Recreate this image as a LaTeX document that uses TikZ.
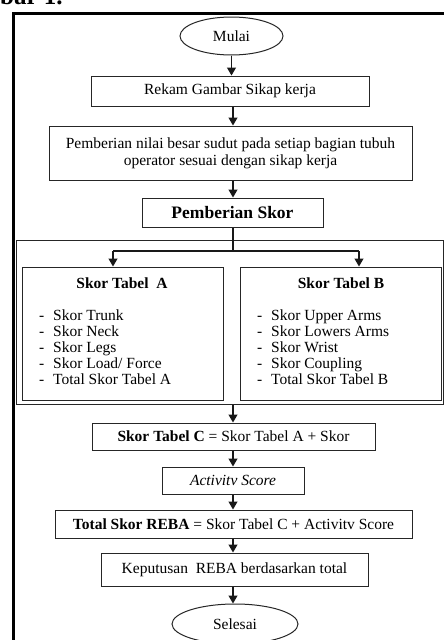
\documentclass[tikz,border=0pt]{standalone}
\usepackage{fontspec}
\setmainfont{Liberation Serif}
\usetikzlibrary{arrows.meta,shapes.geometric}
\tikzset{
  basefont/.style={font=\fontsize{15.5}{17}\selectfont},
  flowbox/.style={draw=black!85, line width=1pt, inner sep=0pt, align=center, basefont, fill=white},
  termnode/.style={flowbox, ellipse},
  arr/.style={draw=black!90, line width=1.2pt, -{Triangle[length=8pt,width=9pt]}},
  conn/.style={draw=black!90, line width=1.2pt},
  listtext/.style={inner sep=0pt, align=left, anchor=west, font=\fontsize{15.5}{16}\selectfont},
  frameline/.style={draw=black, line width=3.5pt},
}
\newcommand{\itm}[1]{\makebox[14pt][l]{-}#1}
\begin{document}
\begin{tikzpicture}[x=1pt,y=-1pt]
\useasboundingbox (0,0) rectangle (444,640);

% partial caption at the top
\node[anchor=base west, inner sep=0pt, font=\bfseries\fontsize{25}{25}\selectfont] (cap) at (0,4) {bar 1.};

% thick outer frame (cropped)
\draw[frameline] (13.5,650) -- (13.5,13.5) -- (460,13.5);

% group box around tables A and B
\node[draw=black!85, line width=1pt, inner sep=0pt, minimum width=427pt, minimum height=164pt] (grp) at (229.5,322) {};

\node[termnode, minimum width=103pt, minimum height=38pt] (mulai) at (231.5,36) {Mulai};
\node[flowbox, minimum width=278pt, minimum height=30pt] (rekam) at (230,91) {Rekam Gambar Sikap kerja};
\node[flowbox, minimum width=363pt, minimum height=54pt] (nilai) at (230.5,153) {Pemberian nilai besar sudut pada setiap bagian tubuh\\operator sesuai dengan sikap kerja};
\node[flowbox, minimum width=181pt, minimum height=29pt, font=\bfseries\fontsize{17.5}{20}\selectfont] (skor) at (232.5,212.5) {Pemberian Skor};

\node[flowbox, minimum width=201pt, minimum height=133pt] (tabA) at (122.5,333.5) {};
\node[flowbox, minimum width=201pt, minimum height=133pt] (tabB) at (340.5,333.5) {};
\node[inner sep=0pt, font=\bfseries\fontsize{15.5}{17}\selectfont] (titA) at (122,283) {Skor Tabel\ \ A};
\node[inner sep=0pt, font=\bfseries\fontsize{15.5}{17}\selectfont] (titB) at (341,283) {Skor Tabel B};
\node[listtext] (listA) at (39,347) {\itm{Skor Trunk}\\\itm{Skor Neck}\\\itm{Skor Legs}\\\itm{Skor Load/ Force}\\\itm{Total Skor Tabel A}};
\node[listtext] (listB) at (257,347) {\itm{Skor Upper Arms}\\\itm{Skor Lowers Arms}\\\itm{Skor Wrist}\\\itm{Skor Coupling}\\\itm{Total Skor Tabel B}};

\node[flowbox, minimum width=283pt, minimum height=27pt] (tabC) at (233.5,436.5) {\textbf{Skor Tabel C} = Skor Tabel A + Skor};
\node[flowbox, minimum width=142pt, minimum height=27pt] (act) at (233,480.5) {\itshape Activitv Score};
\node[flowbox, minimum width=357pt, minimum height=28pt] (reba) at (233.5,524) {\textbf{Total Skor REBA} = Skor Tabel C + Activitv Score};
\node[flowbox, minimum width=267pt, minimum height=33pt] (kep) at (234.5,569.5) {Keputusan\ \ REBA berdasarkan total};
\node[termnode, minimum width=126pt, minimum height=40pt] (selesai) at (235,624) {Selesai};

% connectors
\coordinate (axis) at (233,0);
\coordinate (split) at (233,251);
\coordinate (splitL) at (113,251);
\coordinate (splitR) at (359,251);

\draw[arr] (mulai.south) -- (mulai.south |- rekam.north);
\draw[arr] (rekam.south -| axis) -- (axis |- nilai.north);
\draw[arr] (nilai.south -| axis) -- (axis |- skor.north);
\draw[conn] (skor.south -| axis) -- (split);
\draw[conn] (splitL) -- (splitR);
\draw[arr] (splitL) -- (splitL |- tabA.north);
\draw[arr] (splitR) -- (splitR |- tabB.north);
\draw[arr] (grp.south -| axis) -- (axis |- tabC.north);
\draw[arr] (tabC.south -| axis) -- (axis |- act.north);
\draw[arr] (act.south -| axis) -- (axis |- reba.north);
\draw[arr] (reba.south -| axis) -- (axis |- kep.north);
\draw[arr] (kep.south -| axis) -- (axis |- selesai.north);
\end{tikzpicture}
\end{document}
